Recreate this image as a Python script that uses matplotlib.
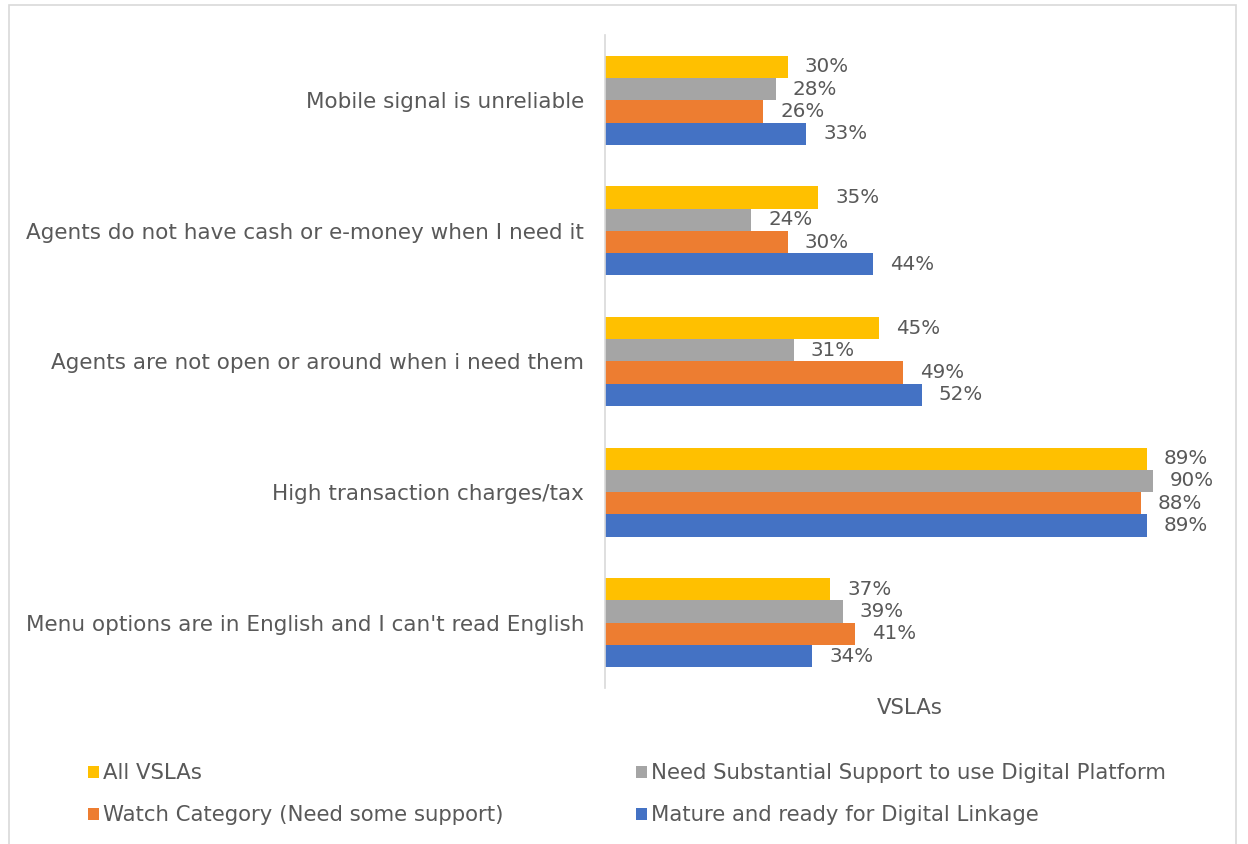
import matplotlib.pyplot as plt
import numpy as np
from matplotlib.patches import Rectangle

categories = [
    "Mobile signal is unreliable",
    "Agents do not have cash or e-money when I need it",
    "Agents are not open or around when i need them",
    "High transaction charges/tax",
    "Menu options are in English and I can't read English",
]
series_names = [
    "All VSLAs",
    "Need Substantial Support to use Digital Platform",
    "Watch Category (Need some support)",
    "Mature and ready for Digital Linkage",
]
all_vslas = [30, 35, 45, 89, 37]
need_support = [28, 24, 31, 90, 39]
watch_category = [26, 30, 49, 88, 41]
mature_ready = [33, 44, 52, 89, 34]
colors = ["#FFC000", "#A5A5A5", "#ED7D31", "#4472C4"]

series = [all_vslas, need_support, watch_category, mature_ready]
text_color = "#595959"

fig = plt.figure(figsize=(12.48, 8.44), dpi=100)
fig.patch.set_facecolor("white")

W, H = 1248, 844

# outer chart frame
fig.add_artist(Rectangle((9 / W, -0.01), 1227 / W, 1 - 5 / H + 0.01,
                         transform=fig.transFigure, fill=False,
                         edgecolor="#D9D9D9", linewidth=1.2))

left, right, top, bottom = 605, 1214, 35, 688
ax = fig.add_axes([left / W, 1 - bottom / H, (right - left) / W, (bottom - top) / H])

y = np.arange(len(categories))
bar_h = 0.17
offsets = np.array([-1.5, -0.5, 0.5, 1.5]) * bar_h
bars = []
for vals, off, c, name in zip(series, offsets, colors, series_names):
    b = ax.barh(y + off, vals, height=bar_h, color=c, label=name)
    bars.append(b)
    for yi, v in zip(y + off, vals):
        ax.text(v + 2.8, yi, f"{v}%", va="center", ha="left",
                fontsize=14.3, color=text_color)

ax.set_xlim(0, 100)
ax.set_ylim(len(categories) - 0.5, -0.5)
ax.set_yticks(y)
ax.set_yticklabels(categories, fontsize=15.5, color=text_color)
ax.tick_params(axis="y", length=0, pad=15)
ax.set_xticks([])
for s in ["top", "right", "bottom"]:
    ax.spines[s].set_visible(False)
ax.spines["left"].set_color("#D9D9D9")
ax.spines["left"].set_linewidth(1.2)
ax.set_xlabel("VSLAs", fontsize=15.3, color=text_color, labelpad=7)

# legend fills column-wise, so order entries to read row by row
order = [0, 2, 1, 3]
fig.legend(handles=[bars[i] for i in order],
           labels=[series_names[i] for i in order], loc="upper left",
           bbox_to_anchor=(69 / W, 1 - 744 / H), ncol=2, frameon=False,
           fontsize=15.3, labelcolor=text_color, handlelength=0.5,
           handleheight=0.5, handletextpad=0.2, columnspacing=6.25,
           labelspacing=1.05)

fig.savefig("out.png", dpi=100, facecolor="white")
